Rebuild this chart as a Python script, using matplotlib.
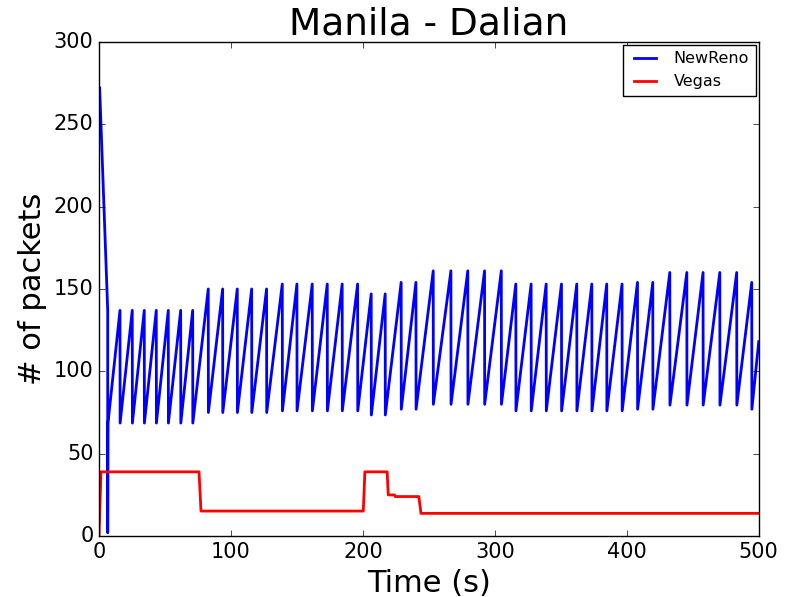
import numpy as np
import matplotlib
matplotlib.use('Agg')
import matplotlib.pyplot as plt

plt.style.use('classic')

# NewReno: opening slow-start spike, then sawtooth (peak time, peak value, value after drop)
start_t = [0.5, 6.6, 6.6, 6.8]
start_v = [272, 137, 2, 68.6]

peak_t = [15.9, 25.2, 34.3, 43.4, 52.5, 61.9, 71.0,
          82.8, 93.7, 104.8, 115.7, 127.0,
          138.9, 150.0, 161.6, 173.0, 184.3, 196.0,
          206.3, 216.9, 229.0, 240.2,
          253.3, 266.7, 279.5, 292.2, 304.9,
          315.9, 327.5, 338.9, 350.5, 362.1, 373.5, 384.8, 396.4,
          408.1, 419.7,
          432.6, 445.5, 457.8, 470.5, 483.3, 494.7]
peak_v = [137, 137, 137, 137, 137, 137, 137,
          150, 150, 150, 150, 150,
          153, 153, 153, 153, 153, 153,
          147, 147, 154, 154,
          161, 161, 161, 161, 161,
          153, 153, 153, 153, 153, 153, 153, 153,
          154, 154,
          160, 160, 160, 160, 160, 154]
trough_v = [68.6, 68.6, 68.6, 68.6, 68.6, 68.6, 68.6,
            75, 75, 75, 75, 75,
            76, 76, 76, 76, 76, 76,
            73.5, 73.5, 77, 77,
            80, 80, 80, 80, 80,
            76, 76, 76, 76, 76, 76, 76, 76,
            77, 77,
            79.5, 79.5, 79.5, 79.5, 79.5, 77]
end_t, end_v = 500, 118

# Vegas: step levels
vegas_t = [0, 1.5, 75.8, 77.3, 200.3, 201.5, 218.4, 219.2, 224, 224.5, 242.4, 244, 500]
vegas_v = [0, 39, 39, 15.2, 15.2, 39, 39, 25, 25, 24, 24, 13.8, 13.8]


def newreno_path():
    t = list(start_t)
    v = list(start_v)
    for pt, pv, tv in zip(peak_t, peak_v, trough_v):
        t += [pt, pt + 0.1]
        v += [pv, tv]
    t.append(end_t)
    v.append(end_v)
    return t, v


fig = plt.figure(figsize=(7.92, 5.97), dpi=100)
ax = fig.add_subplot(111)
fig.subplots_adjust(left=0.125, right=0.958, bottom=0.102, top=0.93)

nr_t, nr_v = newreno_path()
ax.plot(nr_t, nr_v, 'b-', lw=2, label='NewReno')
ax.plot(vegas_t, vegas_v, 'r-', lw=2, label='Vegas')

ax.set_xlim(0, 500)
ax.set_ylim(0, 300)
ax.set_title('Manila - Dalian', fontsize=27)
ax.set_xlabel('Time (s)', fontsize=22)
ax.set_ylabel('# of packets', fontsize=22)
ax.tick_params(labelsize=15)
ax.legend(loc='upper right', fontsize=11.5, borderaxespad=0.2)

fig.savefig('out.png', dpi=100, facecolor='white')
